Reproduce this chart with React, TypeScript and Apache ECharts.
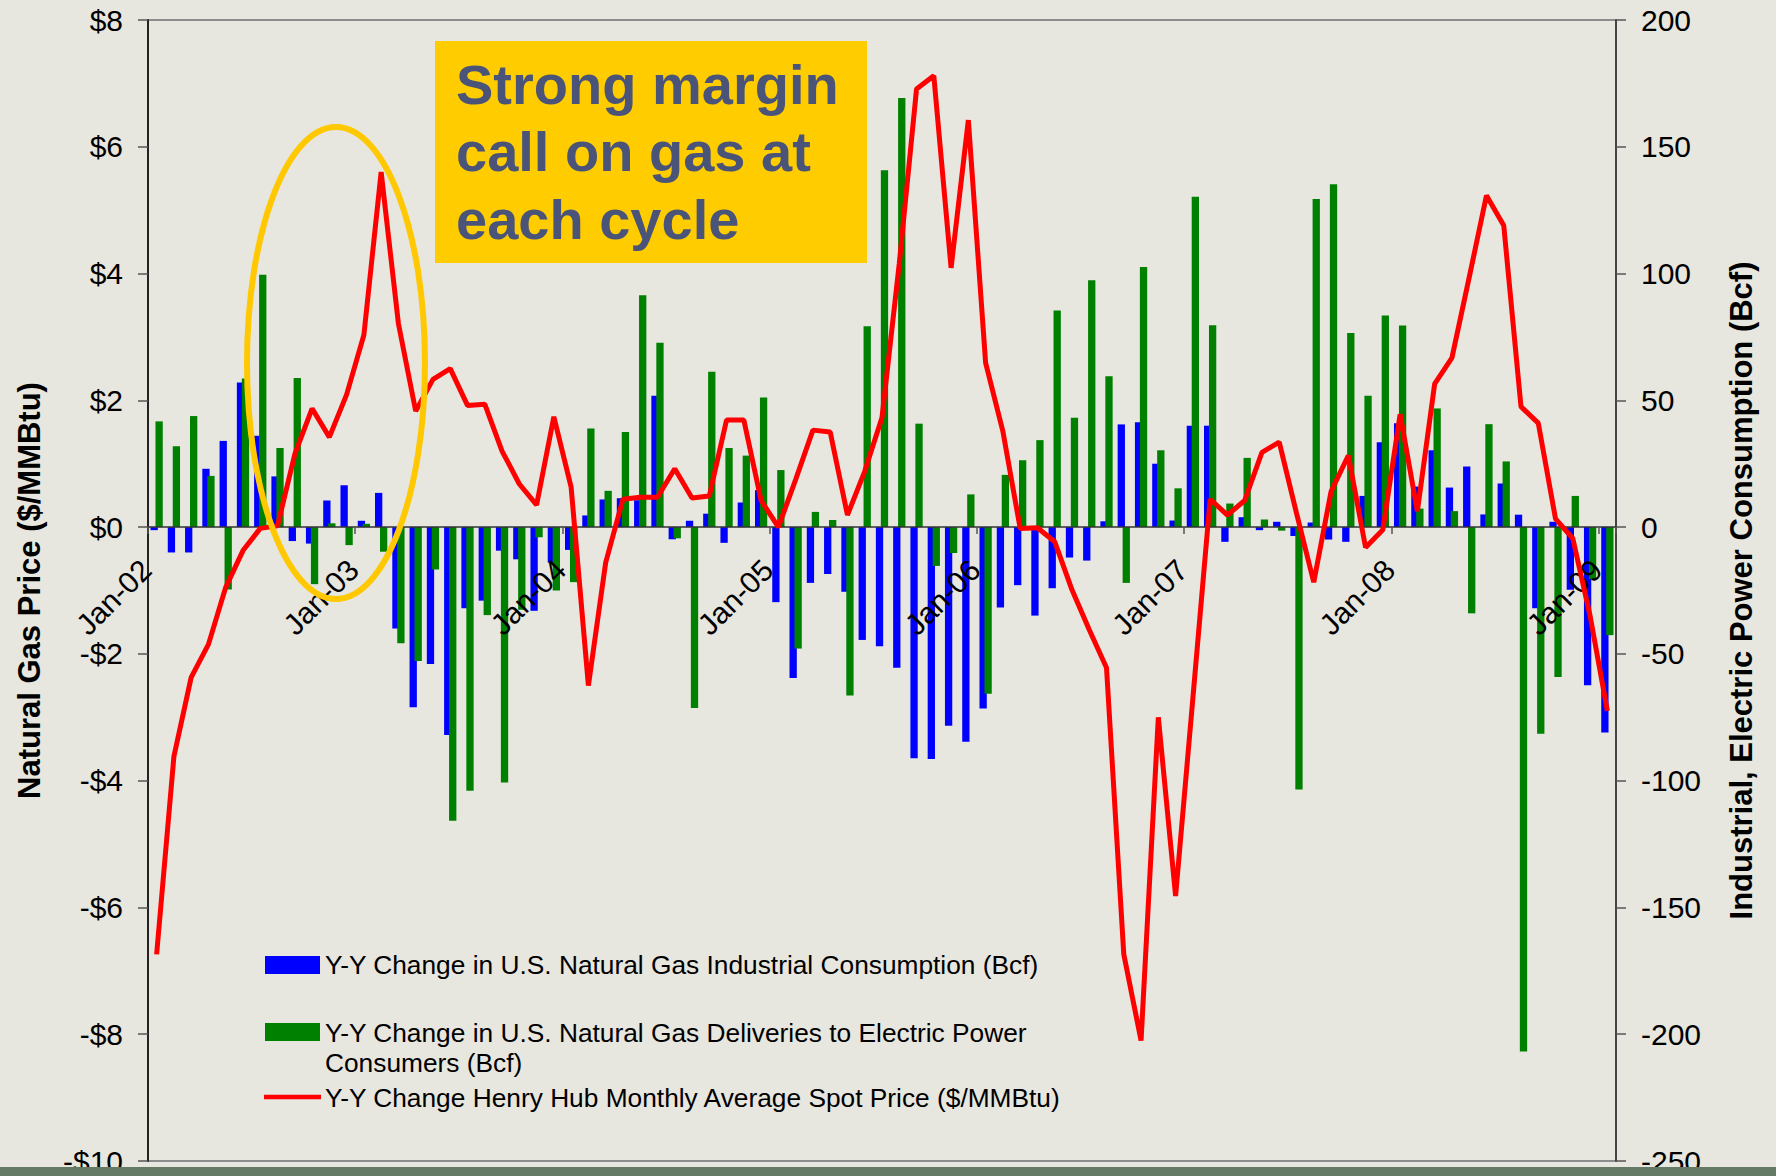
import React, { useEffect, useRef } from "react";
import * as echarts from "echarts";

// ---------- categories ----------
const monthNames = ["Jan", "Feb", "Mar", "Apr", "May", "Jun", "Jul", "Aug", "Sep", "Oct", "Nov", "Dec"];
const yearCodes = ["02", "03", "04", "05", "06", "07", "08", "09"];
const categories: string[] = [];
yearCodes.forEach((y, yi) => {
  monthNames.forEach((m, mi) => {
    if (yi < yearCodes.length - 1 || mi === 0) categories.push(`${m}-${y}`);
  });
});

// ---------- series values ----------
// Y-Y change in U.S. natural gas industrial consumption (Bcf)
const industrial = [
  -1.2, -10, -10, 23, 34, 57, 36, 20, -5.5, -6.5, 10.5, 16.5,
  2.5, 13.5, -40, -71, -54, -82, -32, -29, -9.3, -12.7, -33, -14,
  -9, 4.6, 10.9, 11.4, 10.6, 51.8, -4.8, 2.5, 5.3, -6.2, 9.7, 14.6,
  -29.6, -59.5, -22, -18.5, -25.5, -44.5, -47, -55.5, -91.2, -91.5, -78.3, -84.7,
  -71.5, -31.7, -22.9, -34.9, -24.1, -12, -13.2, 2.3, 40.5, 41.4, 25, 2.6,
  40, 40, -5.8, 3.9, -1.2, 2.1, -3.5, 1.8, -4.9, -5.8, 12.3, 33.5,
  41, 16, 30.3, 15.6, 23.9, 5, 17.2, 4.9, -32, 2.1, -24.7, -62.4,
  -81,
];

// Y-Y change in U.S. natural gas deliveries to electric power consumers (Bcf)
const electric = [
  41.7, 31.9, 43.8, 20.2, -24.6, 58.6, 99.5, 31.2, 58.8, -22.5, 1.5, -7.1,
  1.3, -9.7, -45.8, -52.8, -16.7, -115.8, -104, -34.7, -100.7, -32.6, -4, -25,
  -21.7, 38.9, 14.3, 37.5, 91.4, 72.7, -4.4, -71.3, 61.3, 31.2, 28.2, 51.1,
  22.5, -47.9, 6, 2.8, -66.4, 79.2, 140.7, 169.2, 40.8, -15.3, -10.2, 12.9,
  -65.7, 20.6, 26.4, 34.3, 85.4, 43.1, 97.4, 59.5, -22, 102.6, 30.3, 15.3,
  130.3, 79.6, 9.3, 27.3, 3, -1.4, -103.5, 129.4, 135.2, 76.6, 51.8, 83.5,
  79.5, 7.3, 46.8, 6.3, -34, 40.6, 25.9, -206.8, -81.5, -59.1, 12.3, -20.5,
  -42.6,
];

// Y-Y change Henry Hub monthly average spot price ($/MMBtu)
const henryHub = [
  -6.74, -3.62, -2.37, -1.85, -0.95, -0.37, -0.02, 0.02, 1.15, 1.87, 1.42, 2.09,
  3.03, 5.6, 3.21, 1.83, 2.33, 2.5, 1.92, 1.94, 1.2, 0.68, 0.35, 1.74,
  0.63, -2.5, -0.56, 0.44, 0.47, 0.47, 0.92, 0.46, 0.49, 1.69, 1.69, 0.42,
  0.0, 0.75, 1.53, 1.5, 0.19, 0.88, 1.73, 4.16, 6.91, 7.12, 4.09, 6.42,
  2.59, 1.51, -0.02, -0.01, -0.23, -0.99, -1.62, -2.22, -6.74, -8.1, -3.0, -5.82,
  -2.7, 0.44, 0.19, 0.42, 1.18, 1.34, 0.22, -0.87, 0.56, 1.13, -0.32, -0.04,
  1.78, 0.25, 2.26, 2.67, 3.94, 5.23, 4.76, 1.9, 1.64, 0.13, -0.18, -1.4,
  -2.9,
];

const seriesNames = [
  "Y-Y Change in U.S. Natural Gas Industrial Consumption (Bcf)",
  "Y-Y Change in U.S. Natural Gas Deliveries to Electric Power\nConsumers (Bcf)",
  "Y-Y Change Henry Hub Monthly Average Spot Price ($/MMBtu)",
];
const seriesColors = ["#0000FF", "#008000", "#FF0000"];

const leftAxisTitle = "Natural Gas Price ($/MMBtu)";
const rightAxisTitle = "Industrial, Electric Power Consumption (Bcf)";
const calloutText = "Strong margin\ncall on gas at\neach cycle";

const FONT = "'Liberation Sans', Arial, sans-serif";

// layout
const GRID_TOP = 20;
const GRID_BOTTOM = 15;
const CHART_H = 1176;
const PRICE_MIN = -10;
const PRICE_MAX = 8;

export default function App() {
  const ref = useRef<HTMLDivElement>(null);

  useEffect(() => {
    if (!ref.current) return;
    const chart = echarts.init(ref.current, undefined, { renderer: "svg" });
    const janOnly = (i: number) => i % 12 === 0;

    const plotH = CHART_H - GRID_TOP - GRID_BOTTOM;
    const zeroFromBottom = plotH * (0 - PRICE_MIN) / (PRICE_MAX - PRICE_MIN);

    chart.setOption({
      animation: false,
      backgroundColor: "#E7E6DF",
      textStyle: { fontFamily: FONT, color: "#000" },
      grid: {
        left: 148,
        right: 160,
        top: GRID_TOP,
        bottom: GRID_BOTTOM,
        containLabel: false,
        outerBoundsMode: "none",
        show: true,
        borderColor: "#8C8C8C",
        borderWidth: 2,
        backgroundColor: "transparent",
      },
      xAxis: {
        type: "category",
        data: categories,
        boundaryGap: true,
        position: "bottom",
        offset: -zeroFromBottom,
        z: 10,
        axisLine: { onZero: false, lineStyle: { color: "#333", width: 1.5 } },
        axisTick: { show: true, interval: janOnly, alignWithLabel: false, length: 7, lineStyle: { color: "#555", width: 1.5 } },
        axisLabel: {
          interval: janOnly,
          rotate: 45,
          margin: 27,
          padding: [0, 15, 0, 0],
          fontSize: 30,
          color: "#000",
          fontFamily: FONT,
        },
        splitLine: { show: false },
      },
      yAxis: [
        {
          type: "value",
          min: PRICE_MIN,
          max: PRICE_MAX,
          interval: 2,
          position: "left",
          name: leftAxisTitle,
          nameLocation: "middle",
          nameRotate: 90,
          nameGap: 103,
          nameTextStyle: { fontSize: 31, fontWeight: "bold", color: "#000", fontFamily: FONT },
          axisLine: { show: true, lineStyle: { color: "#222", width: 2 } },
          axisTick: { show: true, length: 10, lineStyle: { color: "#555", width: 1.5 } },
          axisLabel: {
            fontSize: 30,
            color: "#000",
            margin: 25,
            fontFamily: FONT,
            formatter: (v: number) => (v < 0 ? "-$" : "$") + Math.abs(v),
          },
          splitLine: { show: false },
        },
        {
          type: "value",
          min: -250,
          max: 200,
          interval: 50,
          position: "right",
          name: rightAxisTitle,
          nameLocation: "middle",
          nameRotate: 90,
          nameGap: 110,
          nameTextStyle: { fontSize: 31, fontWeight: "bold", color: "#000", fontFamily: FONT },
          axisLine: { show: true, lineStyle: { color: "#444", width: 2 } },
          axisTick: { show: true, length: 10, lineStyle: { color: "#555", width: 1.5 } },
          axisLabel: { fontSize: 30, color: "#000", margin: 25, fontFamily: FONT },
          splitLine: { show: false },
        },
      ],
      series: [
        {
          name: seriesNames[0],
          type: "bar",
          yAxisIndex: 1,
          data: industrial,
          barWidth: 7.3,
          barGap: "-32%",
          itemStyle: { color: seriesColors[0] },
        },
        {
          name: seriesNames[1],
          type: "bar",
          yAxisIndex: 1,
          data: electric,
          barWidth: 7.3,
          barGap: "-32%",
          itemStyle: { color: seriesColors[1] },
        },
        {
          name: seriesNames[2],
          type: "line",
          yAxisIndex: 0,
          data: henryHub,
          symbol: "none",
          lineStyle: { color: seriesColors[2], width: 5 },
          itemStyle: { color: seriesColors[2] },
          z: 12,
        },
      ],
      graphic: [
        // callout ellipse
        {
          type: "ellipse",
          z: 100,
          shape: { cx: 336, cy: 363, rx: 89, ry: 236 },
          style: { fill: "none", stroke: "#FFC800", lineWidth: 6 },
        },
        // callout box
        {
          type: "rect",
          z: 100,
          shape: { x: 435, y: 41, width: 432, height: 222 },
          style: { fill: "#FFCC00" },
        },
        {
          type: "text",
          z: 101,
          style: {
            x: 456,
            y: 151.5,
            text: calloutText,
            fill: "#4A5378",
            font: `bold 56px ${FONT}`,
            lineHeight: 67.5,
            textVerticalAlign: "middle",
            textAlign: "left",
          },
        },
        // legend
        {
          type: "rect",
          z: 100,
          shape: { x: 265, y: 956, width: 55, height: 18 },
          style: { fill: seriesColors[0] },
        },
        {
          type: "text",
          z: 100,
          style: {
            x: 325,
            y: 965,
            text: seriesNames[0],
            fill: "#000",
            font: `26.3px ${FONT}`,
            textVerticalAlign: "middle",
          },
        },
        {
          type: "rect",
          z: 100,
          shape: { x: 265, y: 1023, width: 55, height: 18 },
          style: { fill: seriesColors[1] },
        },
        {
          type: "text",
          z: 100,
          style: {
            x: 325,
            y: 1017.5,
            text: seriesNames[1],
            fill: "#000",
            font: `26.3px ${FONT}`,
            lineHeight: 30,
            textVerticalAlign: "top",
          },
        },
        {
          type: "line",
          z: 100,
          shape: { x1: 264, y1: 1097, x2: 321, y2: 1097 },
          style: { stroke: seriesColors[2], lineWidth: 4.5 },
        },
        {
          type: "text",
          z: 100,
          style: {
            x: 325,
            y: 1098,
            text: seriesNames[2],
            fill: "#000",
            font: `26.3px ${FONT}`,
            textVerticalAlign: "middle",
          },
        },
        // bottom band
        {
          type: "rect",
          z: 100,
          shape: { x: 0, y: 1167, width: 1776, height: 9 },
          style: { fill: "#647A65" },
        },
      ],
    });

    return () => chart.dispose();
  }, []);

  return (
    <div
      ref={ref}
      style={{ position: "fixed", left: 0, top: 0, width: 1776, height: 1176 }}
    />
  );
}
